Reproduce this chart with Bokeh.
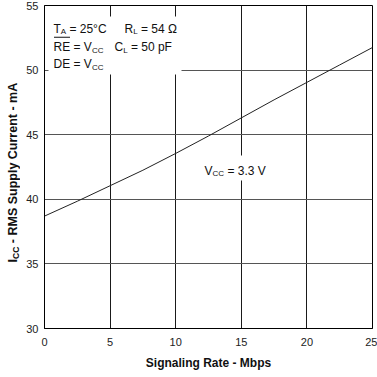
from bokeh.plotting import figure
from bokeh.models import Range1d, FixedTicker, Label, BoxAnnotation
from bokeh.layouts import row
from bokeh.embed import file_html
from bokeh.resources import INLINE
import math

# ---- data ----
rate_mbps = [0, 2.5, 5, 7.5, 10, 12.5, 15, 17.5, 20, 22.5, 25]
icc_ma = [38.7, 39.85, 41.05, 42.25, 43.55, 44.9, 46.3, 47.7, 49.05, 50.4, 51.75]
x_ticks = [0, 5, 10, 15, 20, 25]
y_ticks = [30, 35, 40, 45, 50, 55]
x_label = "Signaling Rate - Mbps"
y_label = ("I", "CC", "- RMS Supply Current - mA")
curve_label = ("V", "CC", "= 3.3 V")

X0, X1, Y0, Y1 = 0, 25, 30, 55
STRIP = 20
FL, FR, FT, FB = 44, 372, 5, 328
FONT = "Liberation Sans"


def dx(px):
    return X0 + (px - FL) / (FR - FL) * (X1 - X0)


def dy(py):
    return Y0 + (FB - py) / (FB - FT) * (Y1 - Y0)


p = figure(width=377 - STRIP, height=377, x_range=Range1d(X0, X1), y_range=Range1d(Y0, Y1),
           output_backend="svg", toolbar_location=None,
           min_border_left=FL - STRIP, min_border_right=377 - FR,
           min_border_top=FT, min_border_bottom=377 - FB)
p.background_fill_color = "white"
p.border_fill_color = "white"
p.outline_line_color = "black"
p.outline_line_width = 1

for ax, ticks in ((p.xaxis[0], x_ticks), (p.yaxis[0], y_ticks)):
    ax.ticker = FixedTicker(ticks=ticks)
    ax.major_tick_out = 0
    ax.major_tick_in = 0
    ax.minor_tick_out = 0
    ax.minor_tick_in = 0
    ax.axis_line_color = "black"
    ax.major_label_text_font = FONT
    ax.major_label_text_font_size = "11px"
    ax.major_label_text_color = "#222222"

p.xaxis.major_label_standoff = 9
p.yaxis.major_label_standoff = 6
p.xaxis.axis_label = x_label
p.xaxis.axis_label_text_font = FONT
p.xaxis.axis_label_text_font_size = "12px"
p.xaxis.axis_label_text_font_style = "bold"
p.xaxis.axis_label_text_color = "#111111"
p.xaxis.axis_label_standoff = 7

p.xgrid.grid_line_color = "#1a1a1a"
p.ygrid.grid_line_color = "#555555"

p.line(rate_mbps, icc_ma, line_color="#222222", line_width=1)

# white boxes behind annotations
p.add_layout(BoxAnnotation(left=dx(48), right=dx(181), top=dy(16), bottom=dy(74),
                           fill_color="white", fill_alpha=1, line_alpha=0))
p.add_layout(BoxAnnotation(left=dx(200), right=dx(272), top=dy(155), bottom=dy(180),
                           fill_color="white", fill_alpha=1, line_alpha=0))


def lab(text, px, py, size=12, style="normal"):
    p.add_layout(Label(x=dx(px), y=dy(py), text=text, text_font=FONT,
                       text_font_size=f"{size}px", text_font_style=style,
                       text_color="#111111",
                       text_align="left", text_baseline="alphabetic"))


# conditions block
lab("T", 53, 28)
lab("A", 60.3, 31, size=8)
lab("= 25\u00b0C", 68.9, 28)
lab("R", 124, 28)
lab("L", 132.7, 31, size=8)
lab("= 54 \u03a9", 140.4, 28)

lab("RE", 53, 46.5)
p.add_layout(BoxAnnotation(left=dx(53.5), right=dx(69.5), top=dy(36.2), bottom=dy(37.2),
                           fill_color="#111111", fill_alpha=1, line_alpha=0))
lab("= V", 73, 46.5)
lab("CC", 91.4, 49.5, size=8)
lab("C", 114, 46.5)
lab("L", 122.7, 49.5, size=8)
lab("= 50 pF", 130.4, 46.5)

lab("DE = V", 53, 63.5)
lab("CC", 91.4, 66.5, size=8)

# curve label
lab(curve_label[0], 204, 170)
lab(curve_label[1], 212, 173, size=8)
lab(curve_label[2], 227, 170)

# left strip holding the rotated y-axis title (frame aligned with main frame)
s = figure(width=STRIP, height=377, x_range=Range1d(0, STRIP), y_range=Range1d(FB, FT),
           output_backend="svg", toolbar_location=None,
           x_axis_location=None, y_axis_location=None,
           min_border_left=0, min_border_right=0,
           min_border_top=FT, min_border_bottom=377 - FB)
s.outline_line_color = None
s.background_fill_color = "white"
s.border_fill_color = "white"
s.grid.visible = False


def rlab(text, px, py, size=12.5):
    s.add_layout(Label(x=px, y=py, text=text, text_font=FONT,
                       text_font_size=f"{size}px", text_font_style="bold",
                       text_color="#111111", angle=math.pi / 2,
                       text_align="left", text_baseline="alphabetic"))


rlab(y_label[0], 12, 262)
rlab(y_label[1], 15, 258.5, size=8.5)
rlab(y_label[2], 12, 242.7)

layout = row(s, p)
open("out.html", "w").write(file_html(layout, INLINE))
